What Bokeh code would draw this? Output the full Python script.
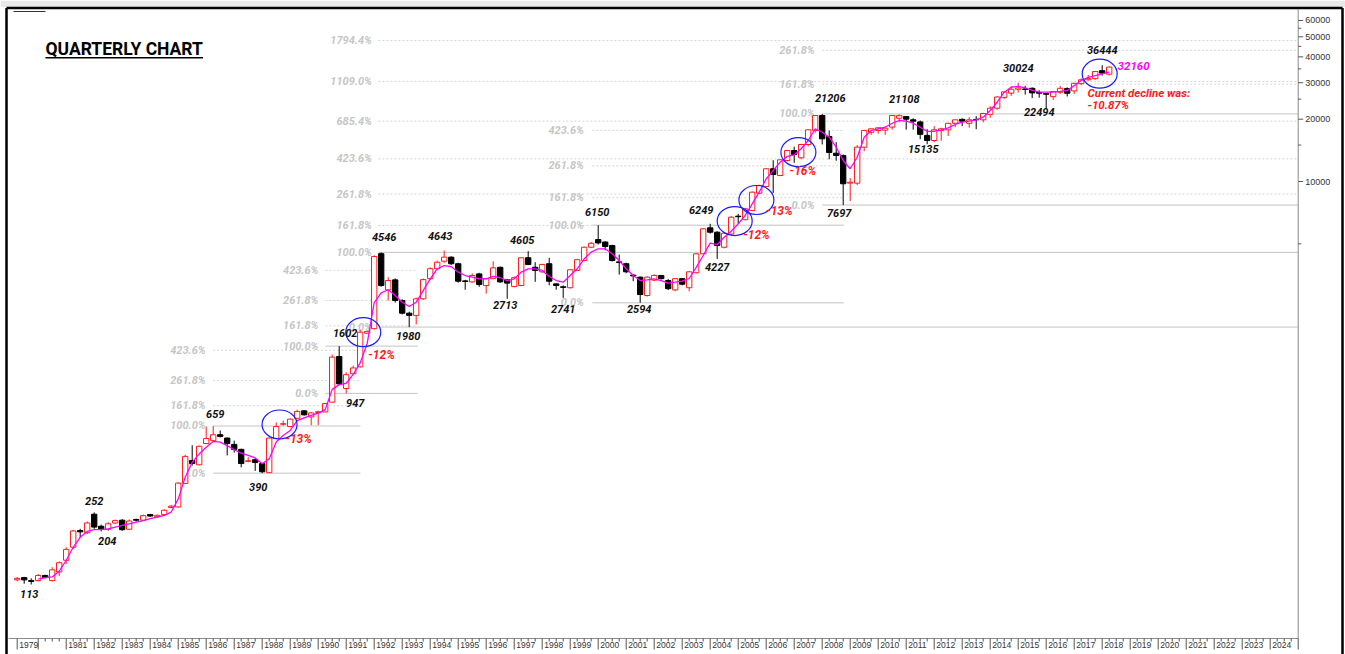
import math
from bokeh.plotting import figure
from bokeh.models import ColumnDataSource, Range1d
from bokeh.core.properties import value
from bokeh.embed import file_html
from bokeh.resources import INLINE

# ---------------- data (quarterly candles, first = 1979 Q2) ----------------
first_quarter = 1979.25
opens = [119,122,118,118,125,118,130,148,171,206,
         201,247,216,209,224,231,209,233,231,246,
         240,246,266,268,348,449,428,542,560,598,
         576,537,508,445,453,434,392,573,672,655,
         718,780,729,766,770,859,1428,1000,1178,1272,
         1850,1946,4480,2994,3348,2661,2311,2255,2711,3393,
         3789,4120,4310,4006,3310,3275,3577,3144,3393,3851,
         3348,3112,3144,4282,3851,3662,4006,3202,3100,3068,
         3718,4153,4813,5240,5100,4905,4090,4006,3530,3450,
         2814,3338,3513,3323,2994,3393,3068,3625,4471,5973,
         5690,4813,5570,6800,6535,7240,8780,9460,11520,10690,
         12630,14120,13020,15090,17640,20840,16500,13700,13350,9820,
         9815,14650,17290,17640,17700,18320,20200,20600,19860,19400,
         16700,15780,17600,17770,19100,19960,19100,19950,19860,21100,
         22600,25500,26700,27900,28000,28200,26900,26600,25700,27000,
         28100,27400,29700,31000,31400,34300,33000]
highs = [123,123,121,127,126,137,146,171,208,210,
         228,252,220,226,233,234,233,235,246,248,
         246,261,274,352,478,532,530,655,659,627,
         580,560,512,466,460,438,580,686,700,716,
         790,785,770,780,850,1460,1602,1200,1290,1920,
         1905,4400,4546,3450,3400,2700,2350,2750,3400,3850,
         4150,4643,4350,4050,3350,3600,3620,3420,4120,3880,
         3380,3480,4300,4605,4075,4000,4280,3230,3150,3780,
         4230,4850,5100,6150,5150,4950,4440,4050,3560,3480,
         3480,3560,3540,3380,3420,3420,3700,4520,5950,6249,
         5750,5700,6800,6980,7450,8950,9650,11600,12671,12800,
         14200,14724,15200,17900,20900,21206,17600,15500,13500,10400,
         15000,17750,18000,18300,18400,20900,21108,20700,20200,19700,
         17900,18500,18200,19200,19950,20200,20450,20700,21480,23100,
         25800,27350,28822,30024,29000,28500,27600,26800,27300,29000,
         28500,30000,31500,32700,34100,36444,35950]
lows = [117,114,113,117,121,117,124,142,168,190,
        198,210,204,205,221,205,207,228,229,240,
        238,243,264,265,345,425,425,538,555,580,
        475,490,416,440,400,390,390,570,660,650,
        712,740,665,665,768,855,1040,947,1170,1265,
        1840,1930,3100,2661,2600,2280,1980,2040,2680,3350,
        3750,4050,3950,3250,3000,3240,3100,2870,3380,3240,
        2713,3080,3120,3950,3275,3620,3150,3000,2741,3040,
        3700,4120,4780,4960,4650,4100,3550,3600,3300,2594,
        2780,3300,3360,2990,2950,3150,2950,3600,4450,5600,
        4227,4750,5500,6245,6500,7200,8700,9400,8799,10600,
        12500,12316,12800,14800,17200,15100,12800,12600,7697,8050,
        9600,14000,16800,17000,16800,17800,19300,17800,17800,16000,
        15135,15500,15750,16600,18300,18500,18200,17900,19300,20300,
        22200,25000,25900,26900,26300,25300,25400,22494,24800,26500,
        25750,26450,29200,30700,31000,32483,32500]
closes = [121,119,117,125,122,133,144,167,205,203,
          224,214,210,222,230,208,229,231,243,242,
          244,258,270,349,470,434,526,573,598,587,
          542,508,434,447,439,396,576,655,676,711,
          775,746,762,772,846,1418,1053,1166,1257,1870,
          1888,4339,3143,3323,2661,2311,2255,2711,3358,3789,
          4075,4310,4006,3298,3290,3513,3178,3393,3826,3275,
          3229,3428,4282,3974,3718,3974,3298,3144,3080,3746,
          4190,4813,5031,5050,4850,4153,4060,3662,3500,2843,
          3450,3513,3393,3036,3393,3190,3662,4471,5907,5690,
          4905,5624,6725,6760,7380,8880,9565,11520,10810,12730,
          14120,13500,15090,17770,20840,16070,13800,13350,9750,9920,
          14650,17640,17970,18170,18100,20840,20800,20000,19570,16900,
          15780,17770,17970,19100,19860,19570,19860,19870,21300,22600,
          25600,27100,27900,28300,27850,26800,26700,26400,27200,28200,
          26700,29800,31000,31400,34000,33400,35700]
nan = float("nan")
moving_avg = [nan,nan,nan,120,122,123,131,148,171,191,
              204,208,208,210,214,218,222,226,230,235,
              239,244,253,292,373,440,483,520,555,551,
              530,506,487,475,462,433,457,551,593,627,
              700,722,741,760,789,990,1044,1060,1170,1330,
              1650,2600,2900,3000,2813,2612,2489,2612,2973,3388,
              3785,3927,3880,3646,3514,3450,3388,3388,3477,3428,
              3323,3388,3646,3785,3785,3717,3477,3323,3262,3514,
              3785,4232,4557,4731,4731,4474,4153,3785,3514,3323,
              3350,3388,3323,3227,3262,3300,3400,3850,4390,5035,
              4960,5380,5754,6245,6854,7802,8878,10300,11300,12400,
              13210,13460,14390,15780,17980,17300,16370,14650,12630,11520,
              13100,16370,17640,17980,18290,19120,19710,19570,19120,18290,
              17470,17470,17770,18170,18860,19360,19570,19860,20450,22030,
              24150,27000,28550,28780,28350,27540,27000,27000,27000,27250,
              27540,29040,30750,31870,32470,33090,33800]

# labelled swing highs / lows (candle index, value)
swing_idx = [2, 11, 12, 28, 35, 46, 47, 52, 56, 61, 70, 73, 78, 83, 89, 99, 100,
             115, 118, 126, 130, 143, 147, 155]
swing_val = [113, 252, 204, 659, 390, 1602, 947, 4546, 1980, 4643, 2713, 4605, 2741,
             6150, 2594, 6249, 4227, 21206, 7697, 21108, 15135, 30024, 22494, 36444]

# Fibonacci projections: base (0%), swing (100%), ratios
fib_base = [390, 947, 1980, 2594, 7697]
fib_swing = [659, 1602, 4546, 6150, 21206]
fib_ratios = [[0, 1, 1.618, 2.618, 4.236],
              [0, 1, 1.618, 2.618, 4.236],
              [0, 1, 1.618, 2.618, 4.236, 6.854, 11.09, 17.944],
              [0, 1, 1.618, 2.618, 4.236],
              [0, 1, 1.618, 2.618]]

decline_text = ["-13%", "-12%", "-12%", "-13%", "-16%"]
current_decline = "-10.87%"
last_value = "32160"

year_labels = [1979] + list(range(1981, 2025))
y_major = [10000, 20000, 30000, 40000, 50000, 60000]
y_minor = [5000, 15000, 25000, 35000, 45000, 55000]

# ---------------- layout ----------------
W, H = 1345, 654
PX_YEAR = 28.0
PX_DEC = 207.0
X_1979 = 9.7          # page px of 1979.0
Y_10K = 181.0         # page px of 10000
x_start = 1979 - X_1979 / PX_YEAR
x_end = x_start + W / PX_YEAR
y_top = 10 ** (4 + Y_10K / PX_DEC)
y_bot = 10 ** (4 - (H - Y_10K) / PX_DEC)


def px_x(px):
    return 1979 + (px - X_1979) / PX_YEAR


def px_y(px):
    return 10 ** (4 - (px - Y_10K) / PX_DEC)


def down(v, px):
    return v * 10 ** (-px / PX_DEC)


def right(t, px):
    return t + px / PX_YEAR


RED = "#ff1a1a"
GRAY_SOLID = "#c4c4c4"
GRAY_DASH = "#d4d4d4"
GRAY_TEXT = "#c6c6c6"
LBL_FONT = value("Roboto")

p = figure(width=W, height=H, title=None,
           x_range=Range1d(x_start, x_end), y_range=Range1d(y_bot, y_top),
           y_axis_type="log", x_axis_location=None, y_axis_location=None,
           toolbar_location=None, output_backend="svg", min_border=0,
           outline_line_color=None, background_fill_color="white",
           border_fill_color="white")
p.grid.visible = False

# page band above the chart frame
p.quad(left=[x_start], right=[x_end], bottom=[px_y(6.5)], top=[y_top],
       fill_color="#e9e9e9", line_color=None)

# ---- Fibonacci lines & labels ----
fib_label_x = [1985.98, 1990.01, 1991.92, 1999.49, 2007.73]
fib_x0 = [1986.25, 1990.26, 1992.15, 1999.79, 2008.0]
fib_x1 = [1991.51, 1993.55, 2025.0, 2008.77, 2025.0]
sol = dict(x0=[], x1=[], y=[])
das = dict(x0=[], x1=[], y=[])
flab = dict(x=[], y=[], s=[])
for g, ratios in enumerate(fib_ratios):
    for r in ratios:
        lvl = fib_base[g] + r * (fib_swing[g] - fib_base[g])
        x1 = fib_x1[g]
        if g == 2 and r == 1.618:
            x1 = fib_x1[3]
        d = sol if r in (0, 1) else das
        d["x0"].append(fib_x0[g]); d["x1"].append(x1); d["y"].append(lvl)
        flab["x"].append(fib_label_x[g]); flab["y"].append(lvl)
        flab["s"].append(f"{r * 100:.1f}%")
p.segment(x0="x0", y0="y", x1="x1", y1="y", source=ColumnDataSource(sol),
          line_color=GRAY_SOLID, line_width=1)
p.segment(x0="x0", y0="y", x1="x1", y1="y", source=ColumnDataSource(das),
          line_color=GRAY_DASH, line_width=1, line_dash="2 2")
p.text(x="x", y="y", text="s", source=ColumnDataSource(flab), text_font=LBL_FONT,
       text_font_size="11px", text_font_style="bold italic", text_color=GRAY_TEXT,
       text_align="right", text_baseline="middle")

# ---- candles ----
t = [first_quarter + 0.25 * k for k in range(len(opens))]
up = dict(t=[], lo=[], hi=[], top=[], bot=[])
dn = dict(t=[], lo=[], hi=[], top=[], bot=[])
for k in range(len(opens)):
    d = up if closes[k] >= opens[k] else dn
    d["t"].append(t[k]); d["lo"].append(lows[k]); d["hi"].append(highs[k])
    d["top"].append(max(opens[k], closes[k])); d["bot"].append(min(opens[k], closes[k]))
src_up, src_dn = ColumnDataSource(up), ColumnDataSource(dn)
p.segment(x0="t", y0="lo", x1="t", y1="hi", source=src_up, line_color=RED, line_width=1)
p.segment(x0="t", y0="lo", x1="t", y1="hi", source=src_dn, line_color="black", line_width=1)
p.vbar(x="t", width=0.19, top="top", bottom="bot", source=src_up,
       fill_color="white", line_color=RED, line_width=1)
p.vbar(x="t", width=0.19, top="top", bottom="bot", source=src_dn,
       fill_color="black", line_color="black", line_width=1)

# ---- moving average ----
p.line(t, moving_avg, line_color="#ff00ff", line_width=1.3)

# ---- blue circles around pullbacks ----
p.ellipse(x=[1988.62, 1991.61, 2004.875, 2005.65, 2007.15, 2017.91],
          y=[670, 1871, 6442, 8141, 13850, 33180],
          width=35, height=29, width_units="screen", height_units="screen",
          fill_color=None, line_color="#1a1aff", line_width=1.2)

# ---- swing labels ----
sw_dx = [-2, 0, 6, 2, -4, 6, 9, 3, -1, -4, -2, -6, 0, -1, -1, -9, 0, 8, -4, 5, -4, 0, -7, 0]
sw_dy = [9, -11, 10, -12, 14, -13, 10, -15, 9, -14, 6, -11, 11, -13, 6, -14, 8, -16, 8, -15, 5, -15, 3, -15]
p.text(x=[t[i] for i in swing_idx], y=swing_val, text=[str(v) for v in swing_val],
       x_offset=sw_dx, y_offset=sw_dy, text_font=LBL_FONT, text_font_size="11px",
       text_font_style="bold italic", text_color="#111111",
       text_align="center", text_baseline="middle")

# ---- red decline labels ----
p.text(x=[1989.30, 1992.26, 2005.65, 2006.47, 2007.31], y=[570, 1455, 5527, 7188, 11215],
       text=decline_text, text_font=LBL_FONT, text_font_size="12px",
       text_font_style="bold italic", text_color="#ff1a1a",
       text_align="center", text_baseline="middle")
p.text(x=[2017.475, 2017.475], y=[26710, 23290],
       text=["Current decline was:", current_decline], text_font=LBL_FONT,
       text_font_size="11.5px", text_font_style="bold italic", text_color="#ff1a1a",
       text_align="left", text_baseline="middle")
p.text(x=[2018.55], y=[35940], text=[last_value], text_font=LBL_FONT,
       text_font_size="11.5px", text_font_style="bold italic", text_color="#ff00ff",
       text_align="left", text_baseline="middle")

# ---- title ----
p.text(x=[px_x(45)], y=[px_y(48.3)], text=["QUARTERLY CHART"], text_font=value("Roboto"),
       text_font_size="17.5px", text_font_style="bold", text_color="black",
       text_align="left", text_baseline="middle")
p.segment(x0=[px_x(45)], y0=[px_y(57.3)], x1=[px_x(202.5)], y1=[px_y(57.3)],
          line_color="black", line_width=1.6)
# small mark in the top-left corner
p.segment(x0=[px_x(13)], y0=[px_y(11)], x1=[px_x(45)], y1=[px_y(11)],
          line_color="#333333", line_width=1)

# ---- right (price) axis ----
AX_T = 2025.0
v_axis = px_y(638)   # level of the time axis line
p.segment(x0=[AX_T], y0=[v_axis], x1=[AX_T], y1=[px_y(9)], line_color="#8a8a8a", line_width=1)
p.segment(x0=[AX_T] * len(y_major), y0=y_major, x1=[right(AX_T, 5)] * len(y_major), y1=y_major,
          line_color="#555555", line_width=1)
p.segment(x0=[AX_T] * len(y_minor), y0=y_minor, x1=[right(AX_T, 3)] * len(y_minor), y1=y_minor,
          line_color="#555555", line_width=1)
p.text(x=[right(AX_T, 7)] * len(y_major), y=y_major, text=[str(v) for v in y_major],
       text_font=value("Liberation Sans"), text_font_size="9px", text_color="#333333",
       text_align="left", text_baseline="middle")

# ---- bottom (time) axis ----
p.segment(x0=[px_x(8)], y0=[v_axis], x1=[AX_T], y1=[v_axis], line_color="#8a8a8a", line_width=1)
yrs = [first_quarter] + list(range(1980, 2026))
p.segment(x0=yrs, y0=[v_axis] * len(yrs), x1=yrs, y1=[down(v_axis, 11)] * len(yrs),
          line_color="#555555", line_width=1)
qts = [y + q * 0.25 for y in range(1980, 2025) for q in (1, 2, 3)]
p.segment(x0=qts, y0=[v_axis] * len(qts), x1=qts, y1=[down(v_axis, 3)] * len(qts),
          line_color="#555555", line_width=1)
lab_x = [first_quarter if y == 1979 else y for y in year_labels]
p.text(x=lab_x, y=[v_axis] * len(year_labels), text=[str(y) for y in year_labels],
       x_offset=2, y_offset=3, text_font=value("Liberation Sans"), text_font_size="8.5px",
       text_color="#333333", text_align="left", text_baseline="top")

# ---- outer frame (left, top, right) ----
p.segment(x0=[px_x(6), px_x(6), px_x(1342)], y0=[y_bot, px_y(7.5), y_bot],
          x1=[px_x(6), px_x(1342), px_x(1342)], y1=[px_y(7.5), px_y(7.5), px_y(7.5)],
          line_color="black", line_width=2.5)

open("out.html", "w").write(file_html(p, INLINE))
